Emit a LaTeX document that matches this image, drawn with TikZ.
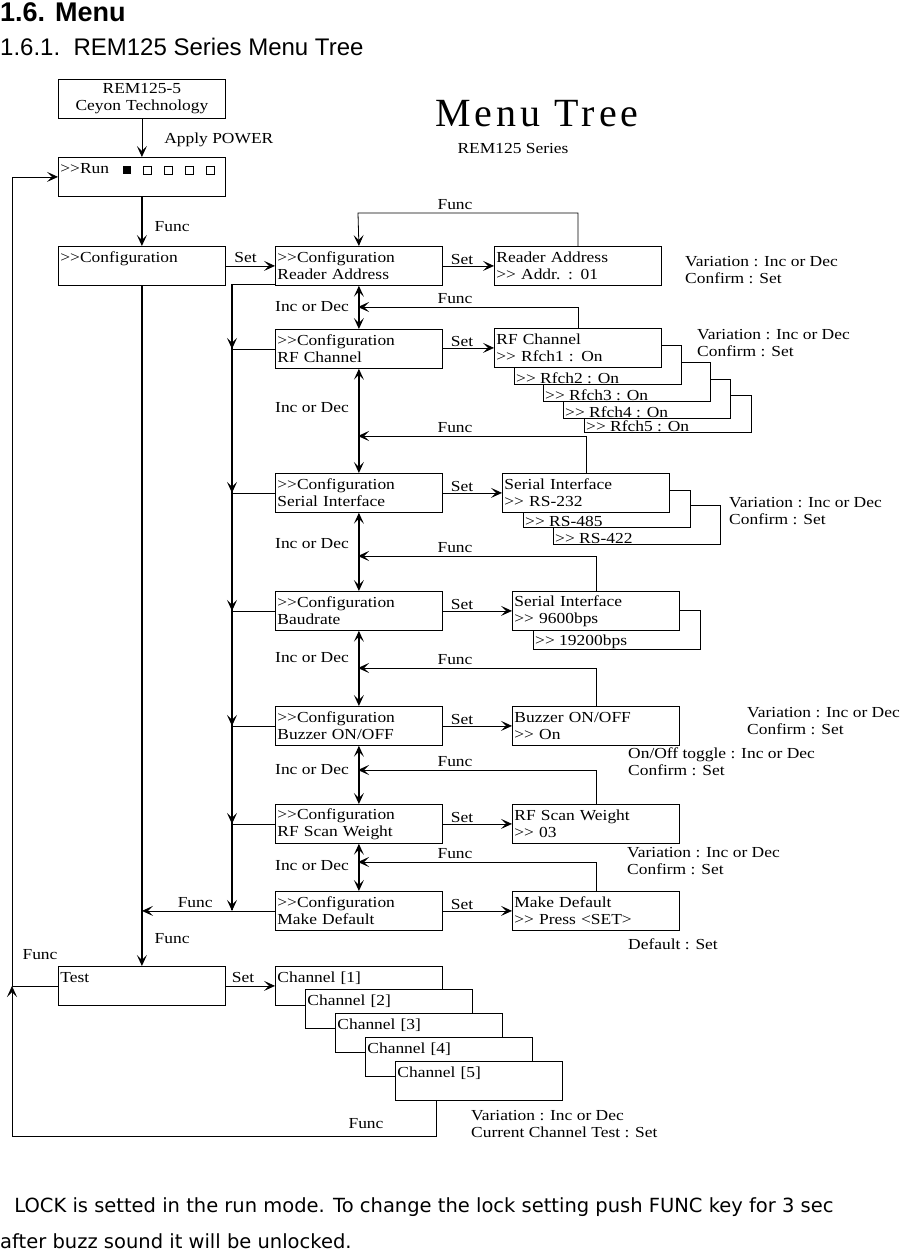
\documentclass[tikz,border=0pt]{standalone}
\usepackage{fontspec}
\setmainfont{Liberation Serif}[FakeStretch=1.14]
\newfontfamily\hsans{Liberation Sans}
\newfontfamily\bsans{DejaVu Sans}
\newfontfamily\tserif{Liberation Serif}
\usetikzlibrary{arrows.meta}
\begin{document}
\begin{tikzpicture}[x=1pt,y=-1pt,
  every node/.style={font=\fontsize{15.3}{17}\selectfont},
  box/.style={draw,line width=0.8pt,fill=white,anchor=north west,minimum width=167pt,minimum height=39pt,text width=163pt,align=left,inner sep=2pt},
  sbox/.style={box,label={[anchor=south west,inner sep=2pt,yshift=-1pt,font=\fontsize{15.3}{17}\selectfont]south west:#1}},
  arr/.style={-{Stealth[length=11pt,width=10pt,inset=5pt]},line width=0.8pt},
  arr2/.style={{Stealth[length=11pt,width=10pt,inset=5pt]}-{Stealth[length=11pt,width=10pt,inset=5pt]},line width=1.2pt},
  rail/.style={line width=1.6pt},
  lbl/.style={anchor=west,inner sep=0pt,align=left}]
\useasboundingbox (0,0) rectangle (900,1254);
% headers
\node[anchor=west,inner sep=0pt,font=\hsans\bfseries\fontsize{27}{30}\selectfont] (h1) at (0,12) {1.6. Menu};
\node[anchor=west,inner sep=0pt,font=\hsans\fontsize{24}{28}\selectfont] (h2) at (0,47) {1.6.1.\ \ REM125 Series Menu Tree};
\node[inner sep=0pt,font=\tserif\fontsize{40}{42}\selectfont\addfontfeature{LetterSpace=10}] (title) at (537,114) {Menu Tree};
\node[inner sep=0pt] (sub) at (513,149) {REM125 Series};
% left column
\node[box,align=center] (rem) at (58,79) {REM125-5\\Ceyon Technology};
\node[box] (run) at (58,157) {>{}>Run\\\mbox{}};
\foreach \xx [count=\i] in {127,147,168,189,210}{
  \ifnum\i=1 \fill (\xx-4,166) rectangle (\xx+4,174); \else \draw[line width=0.8pt] (\xx-4,166) rectangle (\xx+4,174); \fi}
\node[box] (cfg) at (58,246) {>{}>Configuration\\\mbox{}};
\node[box] (test) at (58,966) {Test\\\mbox{}};
\draw[arr] (rem.south) -- node[lbl,pos=0.55,xshift=22pt] {Apply POWER} (run.north);
\draw[arr,rail] (run.south) -- node[lbl,pos=0.6,xshift=12pt] {Func} (cfg.north);
% middle column
\node[box] (ra) at (275,246) {>{}>Configuration\\Reader Address};
\node[box] (rf) at (275,329) {>{}>Configuration\\RF Channel};
\node[box] (si) at (275,473) {>{}>Configuration\\Serial Interface};
\node[box] (bd) at (275,591) {>{}>Configuration\\Baudrate};
\node[box] (bz) at (275,706) {>{}>Configuration\\Buzzer ON/OFF};
\node[box] (sw) at (275,804) {>{}>Configuration\\RF Scan Weight};
\node[box] (md) at (275,891) {>{}>Configuration\\Make Default};
% right column stacks
\node[sbox={>{}> Rfch5 : On},minimum height=37pt] (rf5) at (584,395) {};
\node[sbox={>{}> Rfch4 : On}] (rf4) at (563,379) {};
\node[sbox={>{}> Rfch3 : On}] (rf3) at (543,362) {};
\node[sbox={>{}> Rfch2 : On}] (rf2) at (514,345) {};
\node[box] (rab) at (494,246) {Reader Address\\>{}> Addr. : 01};
\node[box] (rfb) at (494,328) {RF Channel\\>{}> Rfch1 : On};
\node[sbox={>{}> RS-422}] (s3) at (553,505) {};
\node[sbox={>{}> RS-485},minimum height=37pt] (s2) at (523,490) {};
\node[box] (sib) at (502,473) {Serial Interface\\>{}> RS-232};
\node[sbox={>{}> 19200bps}] (b2) at (533,610) {};
\node[box] (bdb) at (512,591) {Serial Interface\\>{}> 9600bps};
\node[box] (bzb) at (512,706) {Buzzer ON/OFF\\>{}> On};
\node[box] (swb) at (512,804) {RF Scan Weight\\>{}> 03};
\node[box] (mdb) at (512,891) {Make Default\\>{}> Press <SET>};
% channels
\node[box] (c1) at (275,966) {Channel [1]\\\mbox{}};
\node[box] (c2) at (305,989) {Channel [2]\\\mbox{}};
\node[box] (c3) at (335,1013) {Channel [3]\\\mbox{}};
\node[box] (c4) at (365,1037) {Channel [4]\\\mbox{}};
\node[box] (c5) at (395,1061) {Channel [5]\\\mbox{}};
% Set arrows
\draw[arr] (cfg.east) -- node[above,pos=0.4] {Set} (ra.west);
\foreach \a/\b in {ra/rab,rf/rfb,si/sib,bd/bdb,bz/bzb,sw/swb,md/mdb}{
  \draw[arr] (\a.east |- \b.west) -- (\b.west);
  \node[anchor=south,inner sep=1pt] at (462,0 |- \b.west) {Set};}
\draw[arr] (test.east) -- node[above,pos=0.35] {Set} (c1.west |- test.east);
% Inc or Dec
\foreach \a/\b/\yy in {ra/rf/307,rf/si/408,si/bd/544,bd/bz/658,bz/sw/770,sw/md/866}{
  \draw[arr2] (\a.south) -- (\b.north);
  \node[anchor=east,inner sep=0pt] at (349,\yy) {Inc or Dec};}
% Func loops
\draw[arr] (rab.north) |- (358,213) -- (ra.north);
\node[inner sep=0pt] at (455,205) {Func};
\foreach \b/\yy in {rfb/307,sib/436,bdb/556,bzb/668,swb/770,mdb/862}{
  \draw[arr] (\b.north) |- (358,\yy);
  \node[inner sep=0pt] at (455,\yy-8) {Func};}
% rails
\coordinate (r2) at (232,0);
\coordinate (r1) at (142,0);
\draw[line width=0.8pt] (ra.west |- 0,284) -- (232,284);
\draw[rail] (232,284) -- (232,910);
\foreach \n in {rf,si,bd,bz,sw}{
  \draw[arr] (232,330 |- \n.west) ++(0,-20) -- (\n.west -| r2);
  \draw[line width=0.8pt] (\n.west -| r2) -- (\n.west);}
\draw[arr] (232,890) -- (md.west -| r2);
\draw[arr] (md.west) -- node[above,pos=0.6] {Func} (md.west -| r1);
\draw[arr,rail] (cfg.south) -- node[lbl,pos=0.96,xshift=12pt] {Func} (test.north);
% bottom loop
\coordinate (lx) at (12,0);
\draw[line width=0.8pt] (test.west) -- (test.west -| lx);
\draw[arr] (c5.south -| 436,0) |- (12,1136) -- (12,986);
\draw[arr] (12,986) |- (run.west);
\node[inner sep=0pt] at (40,955) {Func};
\node[inner sep=0pt] at (366,1124) {Func};
% annotations
\node[lbl] at (685,270) {Variation : Inc or Dec\\Confirm : Set};
\node[lbl] at (697,343) {Variation : Inc or Dec\\Confirm : Set};
\node[lbl] at (729,511) {Variation : Inc or Dec\\Confirm : Set};
\node[lbl] at (747,721) {Variation : Inc or Dec\\Confirm : Set};
\node[lbl] at (628,762) {On/Off toggle : Inc or Dec\\Confirm : Set};
\node[lbl] at (627,861) {Variation : Inc or Dec\\Confirm : Set};
\node[lbl] at (628,944) {Default : Set};
\node[lbl] at (471,1124) {Variation : Inc or Dec\\Current Channel Test : Set};
% bottom text
\node[anchor=west,inner sep=0pt,font=\bsans\fontsize{19.5}{22}\selectfont] (t1) at (8,1207) {\ LOCK is setted in the run mode. To change the lock setting push FUNC key for 3 sec};
\node[anchor=west,inner sep=0pt,font=\bsans\fontsize{19.5}{22}\selectfont] (t2) at (0,1241) {after buzz sound it will be unlocked.};
\end{tikzpicture}
\end{document}
